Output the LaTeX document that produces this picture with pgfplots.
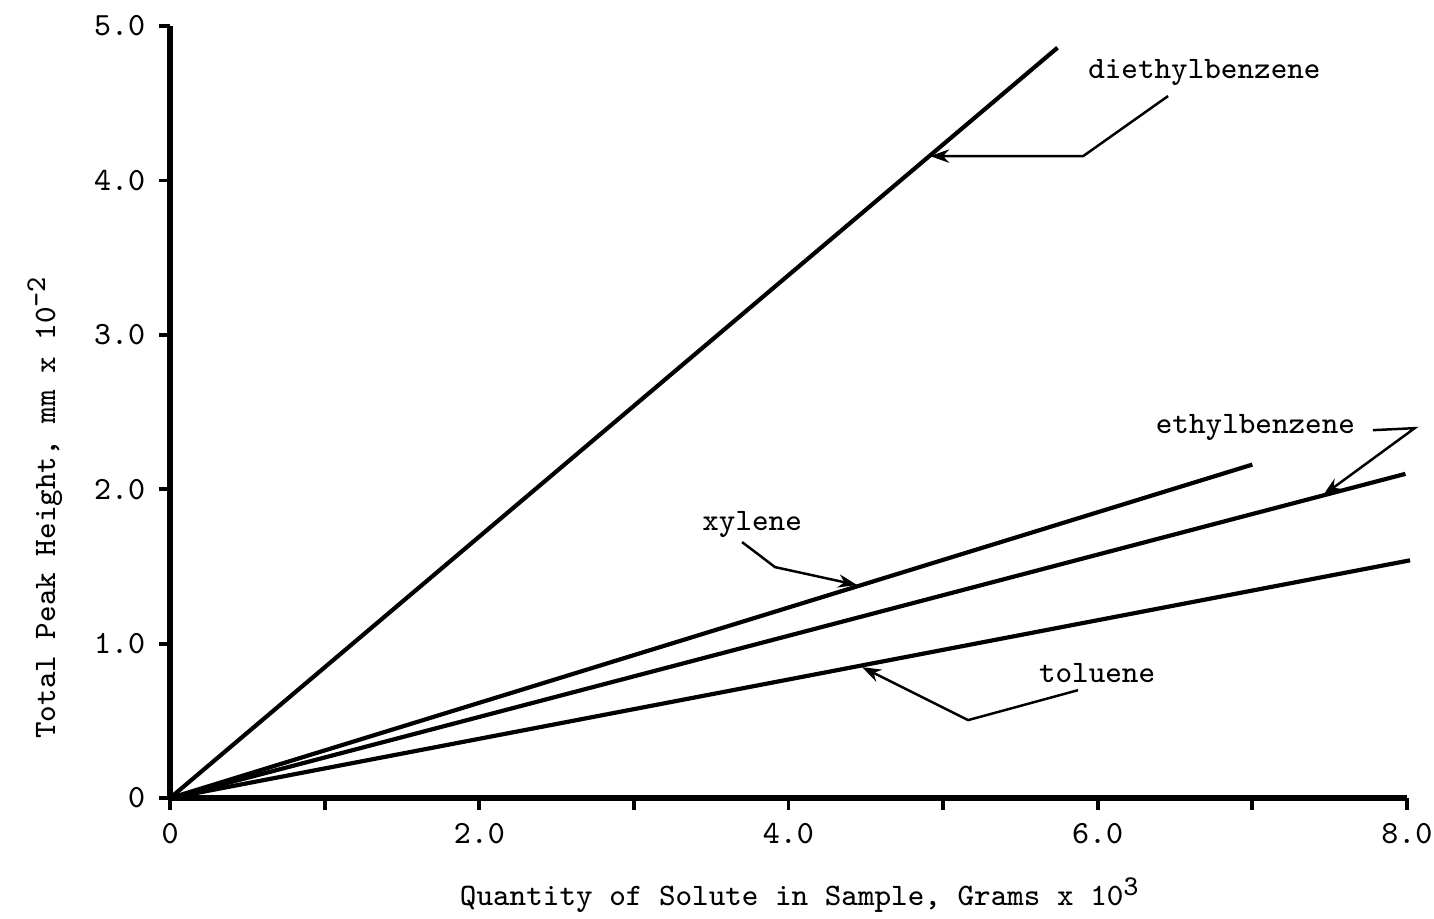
\documentclass[border=0pt]{standalone}
\usepackage{fontspec}
\usepackage{pgfplots}
\pgfplotsset{compat=1.18}
\usetikzlibrary{arrows.meta}
\newcommand{\supx}[1]{\raisebox{0.75ex}{\fontsize{7.5}{8}\selectfont #1}}
\newcommand{\tw}{\ttfamily\addfontfeatures{FakeBold=0.7}}
\begin{document}
\begin{tikzpicture}[x=1pt,y=1pt]
\useasboundingbox (-44.63,-31.5) rectangle (331.8,209.5);
\begin{axis}[at={(0,0)},anchor=south west,
  scale only axis, width=324.7pt, height=202.65pt,
  xmin=0,xmax=8,ymin=0,ymax=5,
  axis lines=left, axis line style={-, line width=1.4pt},
  clip=false,
  xtick={0,1,...,8}, xticklabels={0,,2.0,,4.0,,6.0,,8.0},
  ytick={0,1,2,3,4,5}, yticklabels={0,1.0,2.0,3.0,4.0,5.0},
  tick align=outside, major tick length=3pt,
  tick style={line width=1pt, black},
  tick label style={font=\tw\fontsize{8.5}{10}\selectfont},
]
\addplot[black, line width=1.1pt, mark=none] coordinates {(0,0) (5.74,4.86)};
\addplot[black, line width=1.1pt, mark=none] coordinates {(0,0) (7.0,2.16)};
\addplot[black, line width=1.1pt, mark=none] coordinates {(0,0) (7.99,2.10)};
\addplot[black, line width=1.1pt, mark=none] coordinates {(0,0) (8.02,1.54)};

\begin{scope}[font=\tw\fontsize{8.2}{10}\selectfont]
\node at (axis cs:6.69,4.70) {diethylbenzene};
\node at (axis cs:7.02,2.40) {ethylbenzene};
\node at (axis cs:3.765,1.775) {xylene};
\node at (axis cs:5.996,0.81) {toluene};
\node[rotate=90] at (axis cs:-0.81,1.88) {Total Peak Height, mm x 10\supx{-2}};
\node at (axis cs:4.07,-0.63) {Quantity of Solute in Sample, Grams x 10\supx{3}};
\end{scope}
\begin{scope}[line width=0.65pt, -{Stealth[length=5pt,width=3.5pt]}]
\draw (axis cs:6.455,4.547) -- (axis cs:5.906,4.158) -- (axis cs:4.916,4.158);
\draw (axis cs:7.78,2.383) -- (axis cs:8.05,2.396) -- (axis cs:7.458,1.962);
\draw (axis cs:3.70,1.658) -- (axis cs:3.913,1.496) -- (axis cs:4.444,1.380);
\draw (axis cs:5.873,0.699) -- (axis cs:5.162,0.505) -- (axis cs:4.476,0.848);
\end{scope}
\end{axis}
\end{tikzpicture}
\end{document}
